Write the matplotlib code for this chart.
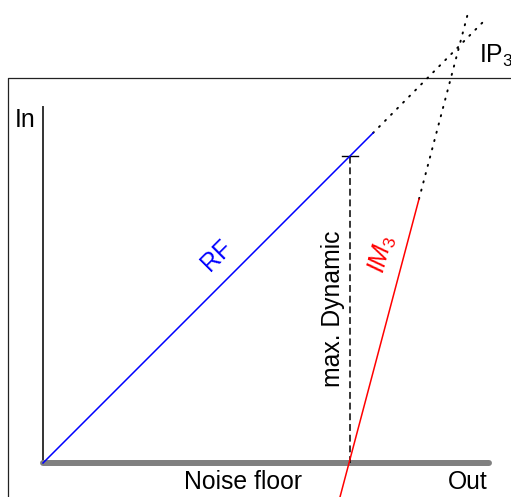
"""Dynamic range sketch: RF and IM3 lines meeting at IP3 above the noise floor."""

import matplotlib

matplotlib.use("Agg")
import matplotlib.pyplot as plt

plt.rcParams["font.family"] = ["Liberation Sans", "DejaVu Sans"]
plt.rcParams["mathtext.fontset"] = "custom"
plt.rcParams["mathtext.rm"] = "Liberation Sans"
plt.rcParams["mathtext.it"] = "Liberation Sans:italic"

# coordinates in pixel-sized units, origin at the start of the noise floor
rf_solid_x = [0, 330]
rf_solid_y = [0, 330]
rf_dot_x = [330, 443]
rf_dot_y = [330, 444]

im3_solid_x = [297, 376]
im3_solid_y = [-34, 264]
im3_dot_x = [376, 425]
im3_dot_y = [264, 450]

noise_x = [0, 446]
noise_y = [0, 0]

axis_x = [0, 0]
axis_y = [0, 356]

dyn_x = [307, 307]
dyn_y = [0, 307]
tick_x = [299, 315]
tick_y = [307, 307]

frame_x = [-35, -35, 470]
frame_y = [-40, 385, 385]

fig = plt.figure(figsize=(5.11, 4.97), dpi=100)
ax = fig.add_axes([0, 0, 1, 1])
ax.set_xlim(-43, 468)
ax.set_ylim(-34, 463)
ax.axis("off")

dots = (0, (0.6, 3.8))

ax.plot(frame_x, frame_y, color="#222222", lw=0.9)
ax.plot(axis_x, axis_y, color="#333333", lw=1.4)
ax.plot(noise_x, noise_y, color="#808080", lw=4.3, solid_capstyle="round", zorder=2)

ax.plot(rf_solid_x, rf_solid_y, color="#0000ff", lw=1.1, zorder=3)
ax.plot(rf_dot_x, rf_dot_y, color="black", lw=1.4, ls=dots, dash_capstyle="round")

ax.plot(im3_solid_x, im3_solid_y, color="#ff0000", lw=1.1, zorder=3)
ax.plot(im3_dot_x, im3_dot_y, color="black", lw=1.4, ls=dots, dash_capstyle="round")

ax.plot(dyn_x, dyn_y, color="black", lw=1.1, ls=(0, (4.5, 2.5)))
ax.plot(tick_x, tick_y, color="black", lw=1.0)

fs = 17.8
ax.text(-28, 336, "In", fontsize=fs, ha="left", va="baseline")
ax.text(445, -26, "Out", fontsize=fs, ha="right", va="baseline")
ax.text(200, -26, "Noise floor", fontsize=fs, ha="center", va="baseline")
ax.text(174, 208, "RF", fontsize=fs, color="#0000ff", rotation=45,
        ha="center", va="center", rotation_mode="anchor")
ax.text(339, 209, "$IM_3$", fontsize=fs, color="#ff0000", rotation=75,
        ha="center", va="center", rotation_mode="anchor")
ax.text(290, 154, "max. Dynamic", fontsize=fs, rotation=90,
        ha="center", va="center", rotation_mode="anchor")
ax.text(436, 400, "IP$_3$", fontsize=fs, ha="left", va="baseline")

fig.savefig("out.png", dpi=100)
